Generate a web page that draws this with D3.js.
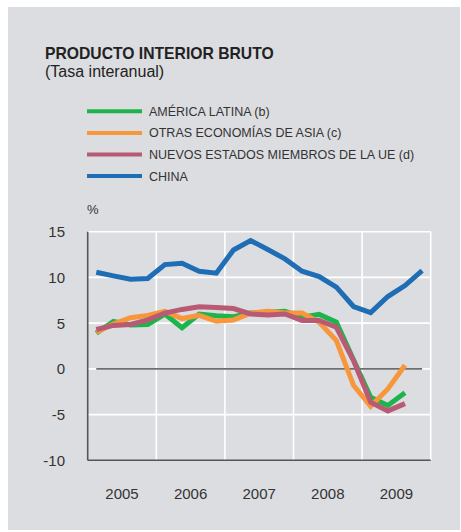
<!DOCTYPE html>
<meta charset="utf-8">
<script src="https://d3js.org/d3.v7.min.js"></script>
<style>
  body { margin: 0; background: #fff; }
  svg text { font-family: "Liberation Sans", Arial, sans-serif; fill: #333; }
</style>
<div id="chart"></div>
<script>

  // quarters 2005 T1 .. 2009 T4
  var quarters = ["2005 T1", "2005 T2", "2005 T3", "2005 T4",
    "2006 T1", "2006 T2", "2006 T3", "2006 T4",
    "2007 T1", "2007 T2", "2007 T3", "2007 T4",
    "2008 T1", "2008 T2", "2008 T3", "2008 T4",
    "2009 T1", "2009 T2", "2009 T3", "2009 T4"];

  var americaLatina = [3.9, 5.2, 4.8, 4.85, 6.0, 4.5, 6.0, 5.8, 5.7, 6.1, 6.2, 6.3, 5.65, 5.95, 5.1, 1.0, -3.1, -4.0, -2.6];
  var otrasAsia = [4.0, 4.9, 5.6, 5.85, 6.3, 5.5, 5.85, 5.2, 5.35, 6.1, 6.3, 6.1, 6.1, 5.1, 3.1, -1.8, -4.1, -2.2, 0.4];
  var nuevosUE = [4.3, 4.75, 4.85, 5.35, 6.1, 6.5, 6.8, 6.7, 6.6, 6.0, 5.9, 6.0, 5.3, 5.3, 4.55, 0.9, -3.65, -4.6, -3.8];
  var china = [10.57, 10.17, 9.8, 9.88, 11.4, 11.55, 10.68, 10.46, 13.0, 14.04, 13.05, 12.03, 10.68, 10.1, 8.93, 6.82, 6.16, 7.91, 9.11, 10.75];

  var seriesNames = ["AMÉRICA LATINA (b)", "OTRAS ECONOMÍAS DE ASIA (c)", "NUEVOS ESTADOS MIEMBROS DE LA UE (d)", "CHINA"];
  var seriesColors = ["#1db44b", "#f7963a", "#b85a73", "#1e6db5"];
  var seriesValues = [americaLatina, otrasAsia, nuevosUE, china];

  var years = [2005, 2006, 2007, 2008, 2009];
  var yTicks = [15, 10, 5, 0, -5, -10];

  var W = 461, H = 532;
  var plotL = 87.7, plotR = 430.7, plotT = 231.7, plotB = 460.3;

  var svg = d3.select("#chart").append("svg")
    .attr("width", W)
    .attr("height", H);

  // gray panel
  svg.append("rect")
    .attr("x", 8).attr("y", 7)
    .attr("width", 452).attr("height", 523)
    .attr("fill", "#dcdde0");

  // title
  svg.append("text")
    .attr("x", 45).attr("y", 59)
    .style("font-size", "15.7px")
    .style("font-weight", "bold")
    .style("fill", "#222")
    .text("PRODUCTO INTERIOR BRUTO");
  svg.append("text")
    .attr("x", 45).attr("y", 77)
    .style("font-size", "16px")
    .style("fill", "#222")
    .text("(Tasa interanual)");

  // legend
  var legend = svg.append("g")
    .selectAll("g")
    .data(seriesNames)
    .enter()
    .append("g")
    .attr("transform", function (d, i) { return "translate(0," + (111.3 + i * 21.6) + ")"; });
  legend.append("line")
    .attr("x1", 87).attr("x2", 142)
    .attr("y1", 0).attr("y2", 0)
    .style("stroke", function (d, i) { return seriesColors[i]; })
    .style("stroke-width", 4);
  legend.append("text")
    .attr("x", 149).attr("y", 4.5)
    .style("font-size", "12.5px")
    .text(function (d) { return d; });

  var x = d3.scaleLinear().domain([2005, 2010]).range([plotL, plotR]);
  var y = d3.scaleLinear().domain([-10, 15]).range([plotB, plotT]);

  function qPos(q) {
    var yr = +q.slice(0, 4), n = +q.slice(6);
    return yr + (n - 0.5) / 4;
  }

  // % label
  svg.append("text")
    .attr("x", 87).attr("y", 214)
    .style("font-size", "13px")
    .text("%");

  // white grid
  svg.append("g")
    .selectAll("line")
    .data(yTicks.filter(function (d) { return d > -10; }))
    .enter()
    .append("line")
    .attr("x1", plotL).attr("x2", plotR)
    .attr("y1", function (d) { return y(d); })
    .attr("y2", function (d) { return y(d); })
    .style("stroke", "#fff")
    .style("stroke-width", 1.6);
  svg.append("g")
    .selectAll("line")
    .data(years.map(function (d) { return d + 1; }))
    .enter()
    .append("line")
    .attr("x1", function (d) { return x(d); })
    .attr("x2", function (d) { return x(d); })
    .attr("y1", plotT).attr("y2", plotB)
    .style("stroke", "#fff")
    .style("stroke-width", 1.6);

  // axes lines
  svg.append("line")
    .attr("x1", plotL).attr("x2", plotL)
    .attr("y1", plotT).attr("y2", plotB)
    .style("stroke", "#555").style("stroke-width", 1.6);
  svg.append("line")
    .attr("x1", plotL).attr("x2", plotR)
    .attr("y1", plotB).attr("y2", plotB)
    .style("stroke", "#555").style("stroke-width", 1.6);

  // zero line
  svg.append("line")
    .attr("x1", x(qPos(quarters[0])))
    .attr("x2", x(qPos(quarters[quarters.length - 1])))
    .attr("y1", y(0)).attr("y2", y(0))
    .style("stroke", "#6d6d6d").style("stroke-width", 1.6);

  // tick labels
  svg.append("g")
    .selectAll("text")
    .data(yTicks)
    .enter()
    .append("text")
    .attr("x", 65)
    .attr("y", function (d) { return y(d) + 5.5; })
    .attr("text-anchor", "end")
    .style("font-size", "15px")
    .text(function (d) { return d; });
  svg.append("g")
    .selectAll("text")
    .data(years)
    .enter()
    .append("text")
    .attr("x", function (d) { return x(d + 0.5); })
    .attr("y", 499)
    .attr("text-anchor", "middle")
    .style("font-size", "15px")
    .text(function (d) { return d; });

  // lines
  var line = d3.line()
    .x(function (d, i) { return x(qPos(quarters[i])); })
    .y(function (d) { return y(d); });

  svg.append("g")
    .selectAll("path")
    .data(seriesValues)
    .enter()
    .append("path")
    .attr("d", line)
    .style("fill", "none")
    .style("stroke", function (d, i) { return seriesColors[i]; })
    .style("stroke-width", 5)
    .style("stroke-linejoin", "miter");

</script>
